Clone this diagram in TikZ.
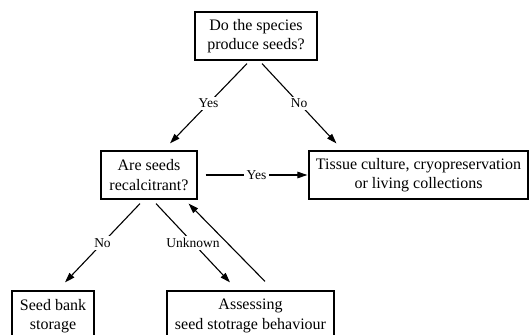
\documentclass[tikz,border=0pt]{standalone}
\usepackage{fontspec}
\setmainfont{Liberation Serif}
\usetikzlibrary{arrows.meta,calc}
\begin{document}
\begin{tikzpicture}[x=1pt,y=-1pt,
  box/.style={draw,line width=1.2pt,inner sep=0pt,align=center,font=\fontsize{16}{19.5}\selectfont},
  lbl/.style={fill=white,inner sep=2.5pt,font=\fontsize{13.5}{15}\selectfont},
  arr/.style={line width=1.1pt,-{Triangle[length=10pt,width=6.5pt]}}]
\useasboundingbox (0,0) rectangle (529,334);
\clip (0,0) rectangle (529,334);
\node[box,minimum width=122pt,minimum height=48pt] (q1) at (256,36) {Do the species\\produce seeds?};
\node[box,minimum width=96pt,minimum height=48pt] (q2) at (149,175) {Are seeds\\recalcitrant?};
\node[box,minimum width=219pt,minimum height=48pt] (q3) at (418.5,175) {Tissue culture, cryopreservation\\or living collections};
\node[box,minimum width=82pt,minimum height=50pt] (q4) at (53,316) {Seed bank\\storage};
\node[box,minimum width=167pt,minimum height=50pt] (q5) at (250.5,316) {Assessing\\seed stotrage behaviour};
% connector ends
\coordinate (a1) at ($(q1.south)+(-9,3)$);
\coordinate (a2) at ($(q2.north)+(21,-7)$);
\coordinate (b1) at ($(q1.south)+(6,3)$);
\coordinate (b2) at ($(q3.north west)+(28,-7)$);
\coordinate (c1) at ($(q2.east)+(8,0)$);
\coordinate (c2) at ($(q3.west)+(-1,0)$);
\coordinate (d1) at ($(q2.south)+(-9,4)$);
\coordinate (d2) at ($(q4.north)+(12,-8)$);
\coordinate (e1) at ($(q2.south)+(7,4)$);
\coordinate (e2) at ($(q5.north)+(-20.5,-8)$);
\coordinate (f1) at ($(q5.north)+(14.5,-9)$);
\coordinate (f2) at ($(q2.south east)+(-9,4)$);
\draw[arr] (a1) -- node[lbl] (ly1) {Yes} (a2);
\draw[arr] (b1) -- node[lbl] (ln1) {No} (b2);
\draw[arr] (c1) -- node[lbl] (ly2) {Yes} (c2);
\draw[arr] (d1) -- node[lbl] (ln2) {No} (d2);
\draw[arr] (e1) -- node[lbl] (lu) {Unknown} (e2);
\draw[arr] (f1) -- (f2);
\end{tikzpicture}
\end{document}
